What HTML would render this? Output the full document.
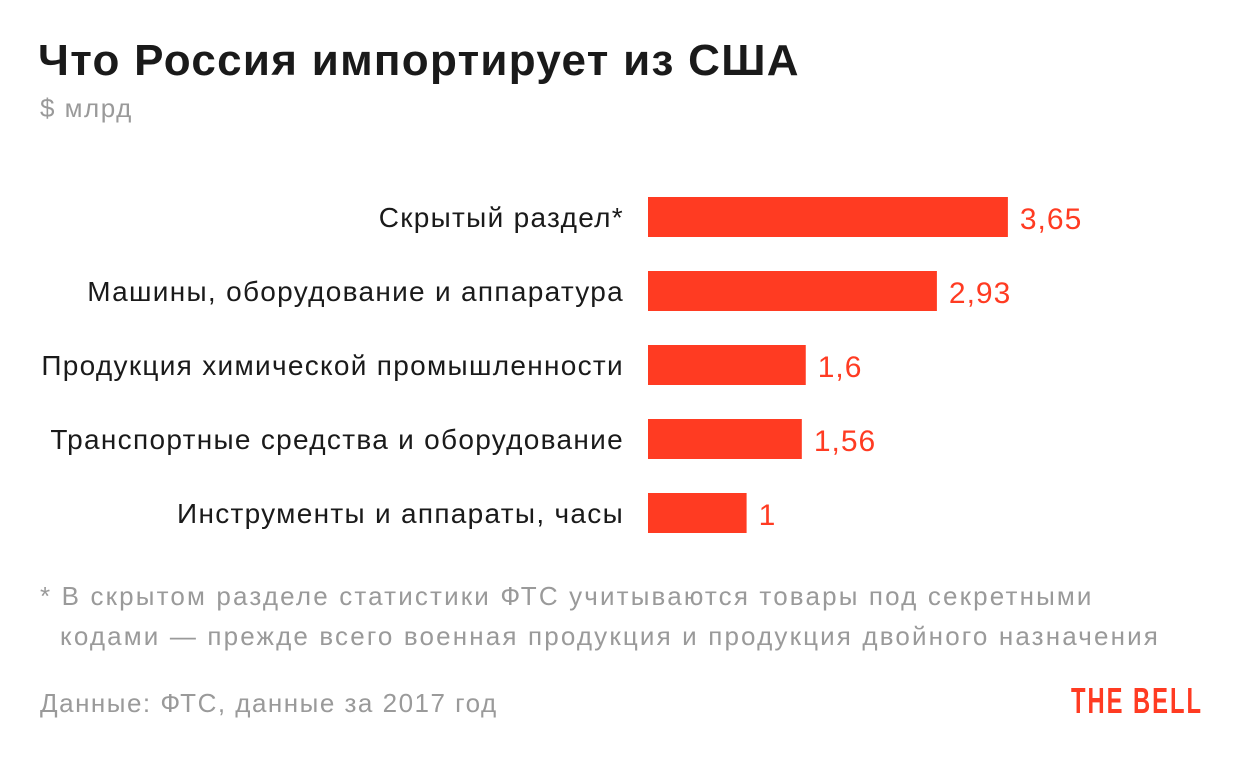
<!DOCTYPE html>
<html><head><meta charset="utf-8"><style>
body{margin:0;width:1240px;height:760px;background:#fff;font-family:"Liberation Sans",sans-serif;position:relative;overflow:hidden}
.t{position:absolute;white-space:nowrap}
</style></head><body>
<div class="t" style="left:38px;top:36px;font-size:44px;font-weight:bold;color:#1a1a1a;letter-spacing:1.3px">Что Россия импортирует из США</div>
<div class="t" style="left:40px;top:93px;font-size:26px;color:#9a9a9a;letter-spacing:1.5px">$ млрд</div>
<svg id="chart" width="1240" height="560" style="position:absolute;left:0;top:0"></svg>
<div class="t" style="left:40px;top:576px;font-size:26px;line-height:40px;color:#9a9a9a;letter-spacing:2.15px">* В скрытом разделе статистики ФТС учитываются товары под секретными<br><span style="padding-left:20px">кодами — прежде всего военная продукция и продукция двойного назначения</span></div>
<div class="t" style="left:40px;top:688px;font-size:26px;color:#9a9a9a;letter-spacing:1.5px">Данные: ФТС, данные за 2017 год</div>
<div class="t" style="left:1071px;top:680px;font-size:36px;font-weight:bold;color:#ff3b22;transform:scaleX(0.66);transform-origin:left top;letter-spacing:3px">THE BELL</div>
<script>
const categories=["Скрытый раздел*","Машины, оборудование и аппаратура","Продукция химической промышленности","Транспортные средства и оборудование","Инструменты и аппараты, часы"];
const values=[3.65,2.93,1.6,1.56,1];
const valueLabels=["3,65","2,93","1,6","1,56","1"];
const svg=document.getElementById('chart');
const NS='http://www.w3.org/2000/svg';
const x0=648, scale=98.6;
const xPos=v=>x0+v*scale;
const yPos=i=>197+i*74;
categories.forEach((c,i)=>{
  const r=document.createElementNS(NS,'rect');
  r.setAttribute('x',x0);r.setAttribute('y',yPos(i));
  r.setAttribute('width',xPos(values[i])-x0);r.setAttribute('height',40);
  r.setAttribute('fill','#ff3b22');
  
  
  svg.appendChild(r);
  const l=document.createElementNS(NS,'text');
  l.setAttribute('x',624);l.setAttribute('y',yPos(i)+30);
  l.setAttribute('text-anchor','end');l.setAttribute('font-size','28');l.setAttribute('fill','#1a1a1a');
  l.setAttribute('letter-spacing','1.3');
  l.textContent=c;
  
  
  svg.appendChild(l);
  const v=document.createElementNS(NS,'text');
  v.setAttribute('x',xPos(values[i])+12);v.setAttribute('y',yPos(i)+32);
  v.setAttribute('font-size','30');v.setAttribute('fill','#ff3b22');
  v.setAttribute('letter-spacing','1');
  v.textContent=valueLabels[i];
  
  
  svg.appendChild(v);
});
</script>
</body></html>
